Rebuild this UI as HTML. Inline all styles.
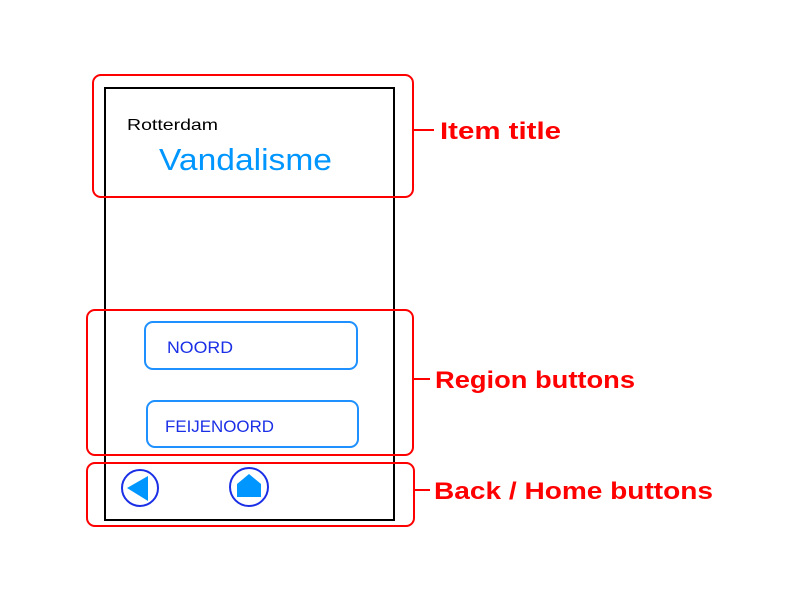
<!DOCTYPE html>
<html><head><style>
body{margin:0;background:#fff;width:800px;height:600px;overflow:hidden}
</style></head><body>
<svg width="800" height="600" xmlns="http://www.w3.org/2000/svg" font-family="Liberation Sans, sans-serif">
<rect x="105" y="88" width="289" height="432" fill="none" stroke="#000" stroke-width="2"/>
<text x="127" y="130" font-size="16" fill="#000" textLength="91" lengthAdjust="spacingAndGlyphs">Rotterdam</text>
<text x="159" y="170" font-size="31" fill="#0096ff" textLength="173" lengthAdjust="spacingAndGlyphs">Vandalisme</text>
<rect x="145" y="322" width="212" height="47" rx="8" fill="none" stroke="#1e90ff" stroke-width="2"/>
<text x="167" y="353" font-size="17" fill="#1a2fe6" textLength="66" lengthAdjust="spacingAndGlyphs">NOORD</text>
<rect x="147" y="401" width="211" height="46" rx="8" fill="none" stroke="#1e90ff" stroke-width="2"/>
<text x="165" y="432" font-size="17" fill="#1a2fe6" textLength="109" lengthAdjust="spacingAndGlyphs">FEIJENOORD</text>
<circle cx="140" cy="488" r="18" fill="none" stroke="#1a2fe6" stroke-width="2"/>
<polygon points="127,488 148,476 148,501" fill="#0096ff"/>
<circle cx="249" cy="487" r="19" fill="none" stroke="#1a2fe6" stroke-width="2"/>
<polygon points="237,484 249,474 261,484 261,497 237,497" fill="#0096ff"/>
<g fill="none" stroke="#f00" stroke-width="2">
<rect x="93" y="75" width="320" height="122" rx="8"/>
<rect x="87" y="310" width="326" height="145" rx="8"/>
<rect x="87" y="463" width="327" height="63" rx="8"/>
<line x1="413" y1="130" x2="434" y2="130"/>
<line x1="413" y1="379" x2="430" y2="379"/>
<line x1="414" y1="490" x2="430" y2="490"/>
</g>
<g fill="#f00" font-size="24" font-weight="bold">
<text x="440" y="139" textLength="121" lengthAdjust="spacingAndGlyphs">Item title</text>
<text x="435" y="388" textLength="200" lengthAdjust="spacingAndGlyphs">Region buttons</text>
<text x="434" y="499" textLength="279" lengthAdjust="spacingAndGlyphs">Back / Home buttons</text>
</g>
</svg>
</body></html>
